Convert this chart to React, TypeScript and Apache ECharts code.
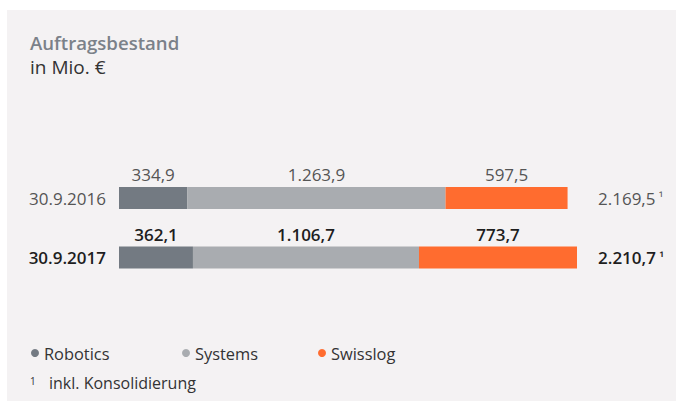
import React, { useEffect, useRef } from "react";
import * as echarts from "echarts";

const categories = ["30.9.2016", "30.9.2017"];
const robotics = [334.9, 362.1];
const systems = [1263.9, 1106.7];
const swisslog = [597.5, 773.7];
const totals = [2169.5, 2210.7];
const seriesNames = ["Robotics", "Systems", "Swisslog"];
const colors = ["#737a82", "#a9acb0", "#ff6c2f"];

const FONT = "'Open Sans', sans-serif";

const de = (v: number) => {
  const [i, d] = v.toFixed(1).split(".");
  return i.replace(/\B(?=(\d{3})+(?!\d))/g, ".") + "," + d;
};

export default function App() {
  const ref = useRef<HTMLDivElement>(null);
  useEffect(() => {
    if (!ref.current) return;
    const chart = echarts.init(ref.current, null, { renderer: "svg" });
    const makeData = (arr: number[]) =>
      arr.map((v, i) => ({
        value: v,
        label: i === 1 ? { fontWeight: 600, color: "#1e1e1e" } : { fontWeight: "normal", color: "#555" },
      }));
    const seriesData = [robotics, systems, swisslog];
    const rich = {
      n: { fontFamily: FONT, fontSize: 17, color: "#555" },
      b: { fontFamily: FONT, fontSize: 17, color: "#1e1e1e", fontWeight: 600 },
      sn: { fontFamily: FONT, fontSize: 13, color: "#555", padding: [0, 0, 2, 0] },
      sb: { fontFamily: FONT, fontSize: 13, color: "#1e1e1e", fontWeight: 600, padding: [0, 0, 2, 0] },
    };
    chart.setOption({
      animation: false,
      backgroundColor: "#ffffff",
      textStyle: { fontFamily: FONT },
      graphic: [
        {
          type: "rect",
          z: -10,
          shape: { x: 7, y: 10, width: 669, height: 391 },
          style: { fill: "#f4f2f3" },
          silent: true,
        },
        {
          type: "text",
          x: 30,
          y: 42,
          style: {
            text: "Auftragsbestand",
            fontFamily: FONT,
            fontSize: 18.6,
            fontWeight: 600,
            fill: "#7b8189",
            verticalAlign: "middle",
          },
        },
        {
          type: "text",
          x: 30,
          y: 67,
          style: {
            text: "in Mio. €",
            fontFamily: FONT,
            fontSize: 19,
            fill: "#333",
            verticalAlign: "middle",
          },
        },
        {
          type: "text",
          x: 30,
          y: 381,
          style: { text: "1", fontFamily: FONT, fontSize: 10, fill: "#333", verticalAlign: "middle" },
        },
        {
          type: "text",
          x: 49,
          y: 383,
          style: {
            text: "inkl. Konsolidierung",
            fontFamily: FONT,
            fontSize: 16,
            fill: "#333",
            verticalAlign: "middle",
          },
        },
      ],
      legend: [
        { left: 31, item: 0 },
        { left: 182, item: 1 },
        { left: 318, item: 2 },
      ].map((l) => ({
        data: [seriesNames[l.item]],
        left: l.left,
        top: 345,
        padding: 0,
        icon: "circle",
        itemWidth: 8,
        itemHeight: 8,
        itemGap: 5,
        textStyle: { fontFamily: FONT, fontSize: 16.4, color: "#333" },
      })),
      grid: { left: 119, right: 99, top: 168.25, bottom: 115.75, containLabel: false },
      xAxis: { type: "value", min: 0, max: "dataMax", show: false },
      yAxis: [
        {
          type: "category",
          data: categories,
          inverse: true,
          axisLine: { show: false },
          axisTick: { show: false },
          axisLabel: {
            margin: 13,
            fontFamily: FONT,
            fontSize: 17,
            formatter: (v: string, i: number) => (i === 1 ? `{b|${v}}` : `{n|${v}}`),
            rich,
          },
        },
        {
          type: "category",
          data: totals.map((t) => de(t)),
          inverse: true,
          position: "right",
          axisLine: { show: false },
          axisTick: { show: false },
          axisLabel: {
            margin: 21,
            fontFamily: FONT,
            fontSize: 17,
            formatter: (v: string, i: number) =>
              i === 1 ? `{b|${v}}{sb| ¹}` : `{n|${v}}{sn| ¹}`,
            rich,
          },
        },
      ],
      series: seriesNames.map((name, k) => ({
        name,
        type: "bar",
        stack: "total",
        yAxisIndex: 0,
        barWidth: 22,
        itemStyle: { color: colors[k] },
        label: {
          show: true,
          position: "top",
          distance: 4,
          fontFamily: FONT,
          fontSize: 17,
          formatter: (p: any) => de(p.value),
        },
        data: makeData(seriesData[k]),
      })),
    });
    return () => chart.dispose();
  }, []);
  return (
    <div
      ref={ref}
      style={{ position: "fixed", left: 0, top: 0, width: 676, height: 403 }}
    />
  );
}
